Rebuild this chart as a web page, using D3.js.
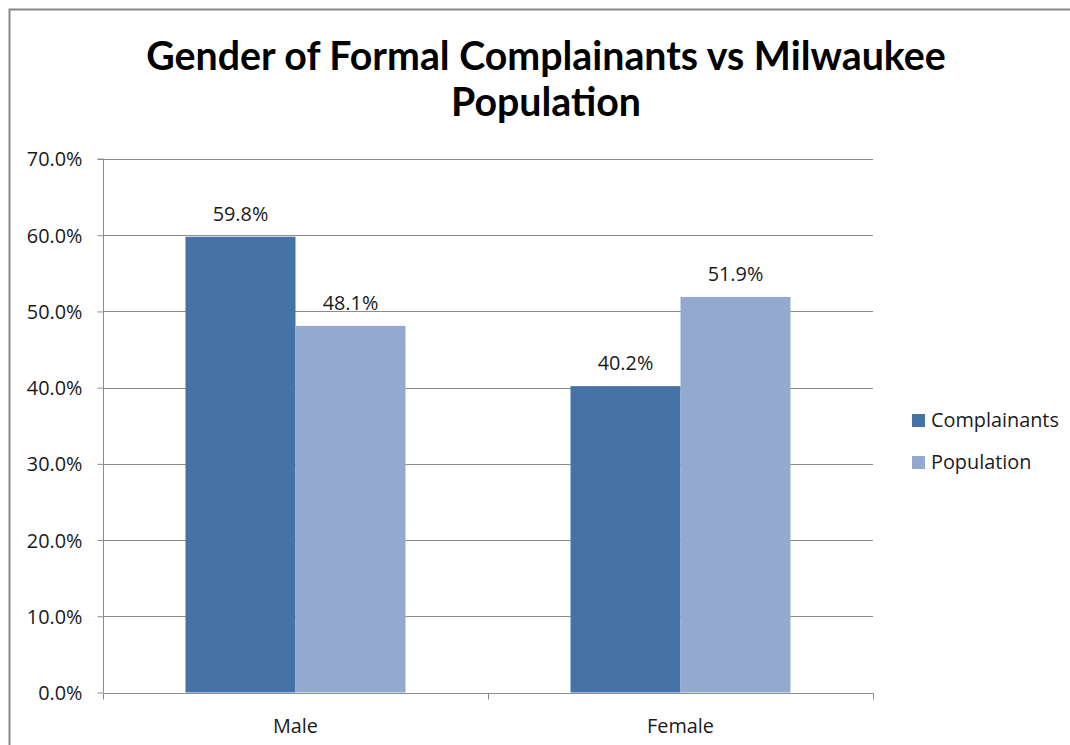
<!DOCTYPE html>
<html><head><meta charset="utf-8">
<script src="https://cdn.jsdelivr.net/npm/d3@7"></script>
<style>body{margin:0;background:#fff;} svg{display:block;}</style>
</head><body>
<svg id="c" width="1070" height="745"></svg>
<script>
const categories = ["Male", "Female"];
const seriesNames = ["Complainants", "Population"];
const complainants = [59.8, 40.2];
const population = [48.1, 51.9];
const yTicks = [0, 10, 20, 30, 40, 50, 60, 70];
const colors = ["#4572a7", "#93a9cf"];
const titleLines = ["Gender of Formal Complainants vs Milwaukee", "Population"];

const svg = d3.select("#c");
const font = "'Open Sans', sans-serif";
const tfont = "Lato, 'Open Sans', sans-serif";

// measure body font size so "Complainants" is ~128px wide
const probe = svg.append("text").attr("font-family", font).attr("font-size", 20).text("Complainants");
const bodySize = 20 * 128 / probe.node().getComputedTextLength();
probe.remove();

svg.append("rect").attr("x", 9.5).attr("y", 9.5).attr("width", 1100).attr("height", 800)
  .attr("fill", "#fff").attr("stroke", "#878787").attr("stroke-width", 2);

const x0 = d3.scaleBand().domain(categories).range([103, 873]);
const x1 = d3.scaleBand().domain(seriesNames).range([0, x0.bandwidth()]).paddingOuter(0.75).paddingInner(0);
const y = d3.scaleLinear().domain([0, 70]).range([692.5, 159]);

// gridlines
svg.append("g").selectAll("line").data(yTicks.slice(1)).join("line")
  .attr("x1", 103).attr("x2", 873).attr("y1", d => Math.round(y(d)) + 0.5).attr("y2", d => Math.round(y(d)) + 0.5)
  .attr("stroke", "#8c8c8c").attr("stroke-width", 1);

const data = categories.map((c, i) => ({cat: c, vals: [complainants[i], population[i]]}));
const g = svg.append("g").selectAll("g").data(data).join("g").attr("transform", d => `translate(${x0(d.cat)},0)`);
g.selectAll("rect").data(d => d.vals.map((v, j) => ({s: seriesNames[j], v, j}))).join("rect")
  .attr("x", d => x1(d.s)).attr("width", x1.bandwidth())
  .attr("y", d => y(d.v)).attr("height", d => y(0) - y(d.v)).attr("fill", d => colors[d.j]);
g.selectAll("text").data(d => d.vals.map((v, j) => ({s: seriesNames[j], v, j}))).join("text")
  .attr("x", d => x1(d.s) + x1.bandwidth() / 2).attr("y", d => y(d.v) - 16)
  .attr("text-anchor", "middle").attr("font-family", font).attr("font-size", bodySize).attr("fill", "#1a1a1a")
  .text(d => d.v.toFixed(1) + "%");

// y axis
const yAxis = d3.axisLeft(y).tickValues(yTicks).tickSize(6).tickPadding(15).tickFormat(d => d.toFixed(1) + "%");
const ya = svg.append("g").attr("transform", "translate(103.5,0)").call(yAxis);
ya.select(".domain").attr("stroke", "#8c8c8c").attr("d", `M-6,${y(70)}H0V${y(0)}`);
ya.selectAll(".tick line").attr("stroke", "#8c8c8c");
ya.selectAll(".tick text").attr("font-family", font).attr("font-size", bodySize).attr("fill", "#1a1a1a").attr("dy", "0.35em");

// x axis
const xa = svg.append("g").attr("transform", `translate(0,${Math.round(y(0)) + 0.5})`);
xa.append("line").attr("x1", 103).attr("x2", 873.5).attr("stroke", "#8c8c8c");
const bounds = [103, 873].concat(categories.slice(1).map(c => x0(c)));
xa.selectAll("line.t").data(bounds).join("line").attr("class", "t")
  .attr("x1", d => Math.round(d) + 0.5).attr("x2", d => Math.round(d) + 0.5).attr("y1", 0).attr("y2", 6).attr("stroke", "#8c8c8c");
xa.selectAll("text").data(categories).join("text")
  .attr("x", d => x0(d) + x0.bandwidth() / 2).attr("y", 39)
  .attr("text-anchor", "middle").attr("font-family", font).attr("font-size", bodySize).attr("fill", "#1a1a1a").text(d => d);

// legend
const lg = svg.append("g");
seriesNames.forEach((s, i) => {
  const cy = 420 + i * 42;
  lg.append("rect").attr("x", 912).attr("y", cy - 6).attr("width", 13).attr("height", 13).attr("fill", colors[i]);
  lg.append("text").attr("x", 931).attr("y", cy).attr("dy", "0.35em").attr("font-family", font)
    .attr("font-size", bodySize).attr("fill", "#1a1a1a").text(s);
});

// title
const t = svg.append("g");
titleLines.forEach((line, i) => {
  t.append("text").attr("x", 546).attr("y", 70 + i * 46).attr("text-anchor", "middle")
    .attr("font-family", tfont).attr("font-weight", "bold").attr("font-size", 31).attr("fill", "#000").text(line);
});
const first = t.select("text").node();
const w = first.getComputedTextLength();
t.selectAll("text").attr("font-size", 31 * 800 / w);
</script>
</body></html>
